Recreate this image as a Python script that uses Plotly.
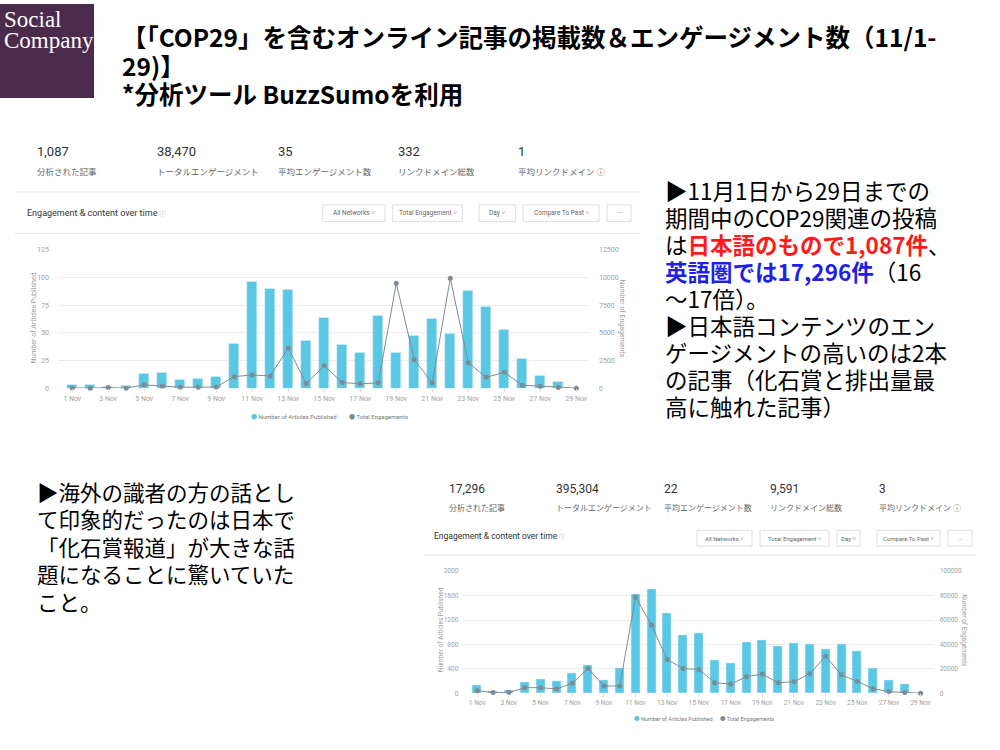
import plotly.graph_objects as go

# ---------------- data ----------------
days = list(range(1, 30))
day_labels = [f"{d} Nov" for d in days]

jp_articles = [3, 3, 1, 2, 13, 14, 8, 9, 10, 40, 96, 90, 89, 43, 64,
               39, 32, 65, 32, 47, 63, 49, 88, 74, 53, 27, 11, 6, 0]
jp_engagements = [20, 0, 50, 0, 300, 200, 90, 90, 100, 1040, 1190, 1100, 3630, 420, 2020,
                  510, 390, 480, 9460, 2560, 480, 9910, 2290, 980, 1430, 270, 180, 60, 0]

en_articles = [140, 40, 43, 189, 227, 200, 335, 454, 216, 405, 1622, 1703, 1308, 951, 978,
               546, 491, 838, 876, 778, 827, 811, 719, 805, 697, 405, 216, 151, 0]
en_engagements = [2160, 540, 540, 4600, 4600, 3510, 8110, 20270, 5950, 5950, 78900, 55950, 27570, 20270, 19460,
                  8650, 7570, 13500, 15680, 8650, 9460, 15950, 30270, 15140, 9730, 3780, 1350, 540, 0]

stat_labels = ["分析された記事", "トータルエンゲージメント", "平均エンゲージメント数", "リンクドメイン総数", "平均リンクドメイン ⓘ"]
jp_stats = ["1,087", "38,470", "35", "332", "1"]
en_stats = ["17,296", "395,304", "22", "9,591", "3"]
buttons = ["All Networks ˅", "Total Engagement ˅", "Day ˅", "Compare To Past ˅", "···"]

title_lines = ["【「COP29」を含むオンライン記事の掲載数＆エンゲージメント数（11/1-",
               "29)】",
               "*分析ツール BuzzSumoを利用"]
right_lines = ["▶11月1日から29日までの",
               "期間中のCOP29関連の投稿",
               "は<b><span style='color:#ff1a1a'>日本語のもので1,087件</span></b>、",
               "<b><span style='color:#1f1fe6'>英語圏では17,296件</span></b>（16",
               "〜17倍）。",
               "▶日本語コンテンツのエン",
               "ゲージメントの高いのは2本",
               "の記事（化石賞と排出量最",
               "高に触れた記事）"]
left_lines = ["▶海外の識者の方の話とし",
              "て印象的だったのは日本で",
              "「化石賞報道」が大きな話",
              "題になることに驚いていた",
              "こと。"]

# ---------------- style ----------------
BAR = "#58c8e4"
LINE = "#7f8b92"
GRID = "#ececec"
TICK = "#a0a0a0"
UI_FONT = "Roboto, Noto Sans CJK JP"
JP_FONT = "Noto Sans CJK JP"


def px(x):
    return x / 1000


def py(y):
    return 1 - y / 750


fig = go.Figure()
fig.add_trace(go.Bar(x=days, y=jp_articles, width=0.54, marker_color=BAR,
                     xaxis="x", yaxis="y", name="Number of Articles Published"))
fig.add_trace(go.Scatter(x=days, y=jp_engagements, mode="lines+markers",
                         line=dict(color=LINE, width=1), marker=dict(color=LINE, size=5),
                         xaxis="x", yaxis="y2", cliponaxis=False, name="Total Engagements"))
fig.add_trace(go.Bar(x=days, y=en_articles, width=0.57, marker_color=BAR,
                     xaxis="x3", yaxis="y3", name="Number of Articles Published"))
fig.add_trace(go.Scatter(x=days, y=en_engagements, mode="lines+markers",
                         line=dict(color=LINE, width=1), marker=dict(color=LINE, size=5),
                         xaxis="x3", yaxis="y4", cliponaxis=False, name="Total Engagements"))

tickf = dict(size=7, color=TICK, family=UI_FONT)
tickf2 = dict(size=6.5, color=TICK, family=UI_FONT)
xcommon = dict(tickvals=days[::2], ticktext=day_labels[::2], showgrid=False, zeroline=False,
               ticks="outside", ticklen=3, tickcolor="#dddddd", showline=False)
ycommon = dict(gridcolor=GRID, zeroline=False, showline=False, ticks="", tickformat="d")

fig.update_layout(
    width=1000, height=750, margin=dict(l=0, r=0, t=0, b=0),
    paper_bgcolor="white", plot_bgcolor="rgba(0,0,0,0)", showlegend=False, bargap=0,
    xaxis=dict(domain=[px(58), px(588)], anchor="y", range=[0.21, 29.65], tickfont=tickf, **xcommon),
    yaxis=dict(domain=[py(388.3), py(248.3)], anchor="x", range=[0, 125], dtick=25,
               ticklabelstandoff=8, tickfont=tickf, **ycommon),
    yaxis2=dict(overlaying="y", side="right", anchor="x", range=[0, 12500], dtick=2500, tickformat="d",
                showgrid=False, zeroline=False, tickfont=tickf, ticklabelstandoff=10),
    xaxis3=dict(domain=[px(463.3), px(931.7)], anchor="y3", range=[0.12, 29.7], tickfont=tickf2, **xcommon),
    yaxis3=dict(domain=[py(696.7), py(573.3)], anchor="x3", range=[0, 2000], dtick=400,
                ticklabelstandoff=4, tickfont=tickf2, **ycommon),
    yaxis4=dict(overlaying="y3", side="right", anchor="x3", range=[0, 100000], dtick=20000, tickformat="d",
                showgrid=False, zeroline=False, tickfont=tickf2, ticklabelstandoff=7),
)

shapes = []
annotations = []


def text(x, y, s, size, color="#000", family=JP_FONT, xanchor="left", angle=0, align="left"):
    annotations.append(dict(x=px(x), y=py(y), xref="paper", yref="paper", text=s, showarrow=False,
                            xanchor=xanchor, yanchor="middle", textangle=angle, align=align,
                            font=dict(size=size, color=color, family=family)))


def block(x, y_first, lines, spacing, glyph_size, bold=False):
    # base font sets the line pitch (1.3 x size); inner span sets the glyph size
    base = spacing / 1.3
    inner = []
    for s in lines:
        t = f"<span style='font-size:{glyph_size}px'>{s}</span>"
        inner.append(f"<b>{t}</b>" if bold else t)
    yc = y_first + spacing * (len(lines) - 1) / 2
    text(x, yc, "<br>".join(inner), base)


def hline(x0, x1, y, color="#e6e6e6"):
    shapes.append(dict(type="line", xref="paper", yref="paper", x0=px(x0), x1=px(x1),
                       y0=py(y), y1=py(y), line=dict(color=color, width=1)))


def box(x0, x1, y0, y1, label, size):
    shapes.append(dict(type="rect", xref="paper", yref="paper", x0=px(x0), x1=px(x1),
                       y0=py(y1), y1=py(y0), line=dict(color="#dedede", width=1), fillcolor="white"))
    text((x0 + x1) / 2, (y0 + y1) / 2, label, size, "#666", UI_FONT, xanchor="center")


# logo
shapes.append(dict(type="rect", xref="paper", yref="paper", x0=0, x1=px(94), y0=py(95), y1=1,
                   line=dict(width=0), fillcolor="#4b2a4c"))
text(2, 26.5, "Social<br>Company", 16.2, "white", "Liberation Serif")
annotations[-1]["text"] = "<span style='font-size:23px'>Social<br>Company</span>"

# title
block(120, 33, title_lines, 28.5, 24.5, bold=True)

# right + left commentary
block(663, 189, right_lines, 27, 22.5)
block(35, 494, left_lines, 27.4, 21.5)

# ---------- top dashboard header ----------
top_cols = [35, 155, 275.7, 395.7, 516]
for x, v, lab in zip(top_cols, jp_stats, stat_labels):
    text(x, 149, v, 13, "#333", UI_FONT)
    text(x, 170, lab, 8.5, "#666", UI_FONT)
hline(15, 640, 190)
text(25, 211, "Engagement & content over time <span style='font-size:6px;color:#999'>ⓘ</span>", 9, "#333", UI_FONT)
top_btn = [(322.7, 385), (392.7, 462.3), (479, 515.7), (523, 599), (607, 631)]
for (x0, x1), b in zip(top_btn, buttons):
    box(x0, x1, 203, 220, b, 6.5)
hline(15, 640, 232)

# ---------- bottom dashboard header ----------
bot_cols = [446.7, 554, 662, 768, 876.7]
for x, v, lab in zip(bot_cols, en_stats, stat_labels):
    text(x, 490, v, 12, "#333", UI_FONT)
    text(x, 509, lab, 8, "#666", UI_FONT)
text(431.7, 538, "Engagement & content over time <span style='font-size:6px;color:#999'>ⓘ</span>", 8.5, "#333", UI_FONT)
bot_btn = [(697, 752), (760, 829), (837, 860), (877, 940), (948, 972)]
for (x0, x1), b in zip(bot_btn, buttons):
    box(x0, x1, 532, 548, b, 6)
hline(425, 975, 557)

# axis titles
text(34, 318, "Number of Articles Published", 7, TICK, UI_FONT, xanchor="center", angle=-90)
text(622, 318, "Number of Engagements", 7, TICK, UI_FONT, xanchor="center", angle=90)
text(441, 633, "Number of Articles Published", 6.5, TICK, UI_FONT, xanchor="center", angle=-90)
text(964, 633, "Number of Engagements", 6.5, TICK, UI_FONT, xanchor="center", angle=90)

# legends
text(249, 417, f"<span style='color:{BAR}'>●</span> Number of Articles Published", 6, "#777", UI_FONT)
text(347, 417, f"<span style='color:{LINE}'>●</span> Total Engagements", 6, "#777", UI_FONT)
text(632, 722.5, f"<span style='color:{BAR}'>●</span> Number of Articles Published", 5.5, "#777", UI_FONT)
text(718, 722.5, f"<span style='color:{LINE}'>●</span> Total Engagements", 5.5, "#777", UI_FONT)

fig.update_layout(shapes=shapes, annotations=annotations)
fig.write_html("out.html", config={"displayModeBar": False},
               post_script="document.body.style.margin='0';")
